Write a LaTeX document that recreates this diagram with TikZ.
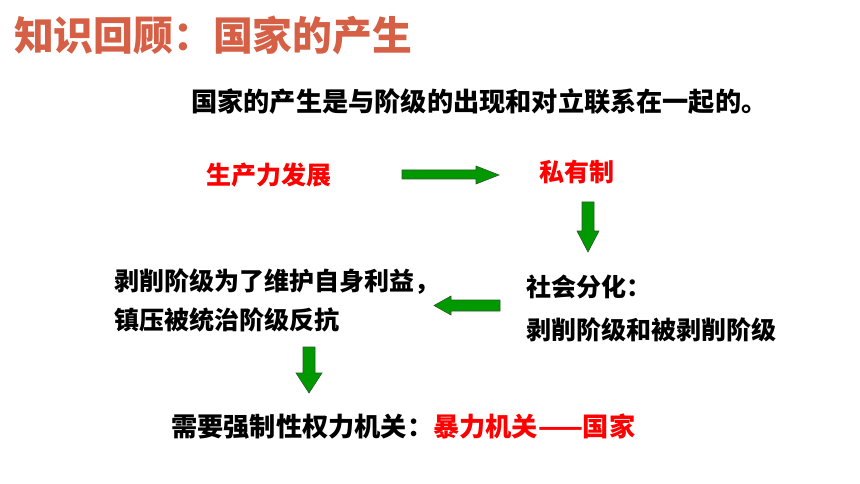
\documentclass[tikz,border=0pt]{standalone}
\usepackage{fontspec}
\newfontfamily\cjk{Noto Sans CJK SC}
\usepackage{xcolor}
\definecolor{titlered}{RGB}{214,96,70}
\definecolor{arrowgreen}{RGB}{0,153,0}
\definecolor{arrowline}{RGB}{40,90,40}
\tikzset{
  txt/.style={anchor=west, inner sep=0pt, font=\cjk\bfseries\fontsize{25}{30}\selectfont},
  bigtxt/.style={txt, font=\cjk\bfseries\fontsize{26.2}{30}\selectfont},
  redtxt/.style={txt, text=red},
  garrow/.style={fill=arrowgreen, draw=arrowline, line width=0.6pt, line join=miter}
}

\begin{document}
\begin{tikzpicture}[x=1pt,y=-1pt]
\useasboundingbox[fill=white] (0,0) rectangle (860,484);
%\draw[step=20,gray,very thin] (0,0) grid (860,484); %background grid

% title
\node[anchor=west,inner sep=0pt,text=titlered,font=\cjk\bfseries\fontsize{39.8}{44}\selectfont] (title) at (14,35) {知识回顾：国家的产生};

\node[bigtxt] (intro) at (191,102) {国家的产生是与阶级的出现和对立联系在一起的。};

\node[redtxt] (prod) at (206,175) {生产力发展};
\node[redtxt] (priv) at (539,172) {私有制};

\node[txt] (split) at (526,287) {社会分化：};
\node[txt] (classes) at (526,330) {剥削阶级和被剥削阶级};

\node[txt] (rule1) at (114,282) {剥削阶级为了维护自身利益，};
\node[txt] (rule2) at (114,320) {镇压被统治阶级反抗};

\node[bigtxt] (need) at (171,427) {需要强制性权力机关：\textcolor{red}{暴力机关——国家}};

% block arrows
\draw[garrow] (402,170)--(476,170)--(476,166)--(499,175)--(476,184)--(476,179)--(402,179)--cycle; %right
\draw[garrow] (582,202)--(594,202)--(594,231)--(599,231)--(588,252)--(577,231)--(582,231)--cycle; %down
\draw[garrow] (500,300)--(451,300)--(451,296)--(434,305.5)--(451,315)--(451,311)--(500,311)--cycle; %left
\draw[garrow] (303,347)--(315,347)--(315,373)--(322,373)--(309,393)--(296,373)--(303,373)--cycle; %down

\end{tikzpicture}
\end{document}
